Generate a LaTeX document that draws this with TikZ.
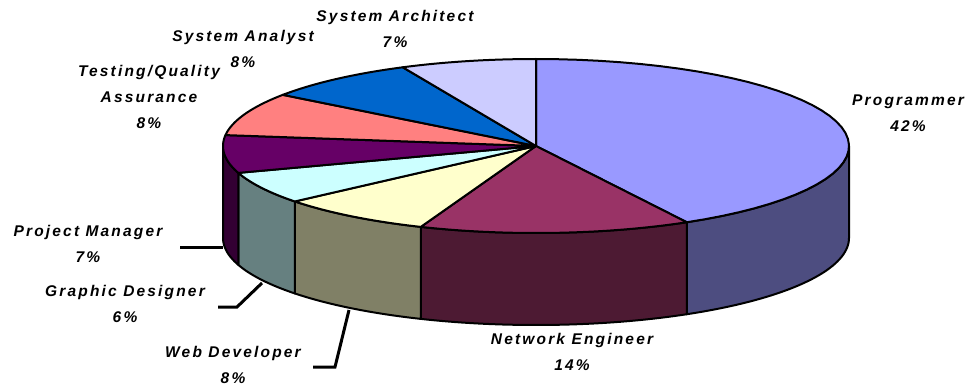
\documentclass[tikz,border=0pt]{standalone}
\usepackage{fontspec}
\setmainfont{Liberation Sans}
\newfontfamily\lblfont[LetterSpace=14]{Liberation Sans}
\definecolor{cProgTop}{HTML}{9999FF}
\definecolor{cProgSide}{HTML}{4D4D80}
\definecolor{cNetTop}{HTML}{993366}
\definecolor{cNetSide}{HTML}{4D1A33}
\definecolor{cWebTop}{HTML}{FFFFCC}
\definecolor{cWebSide}{HTML}{808066}
\definecolor{cGraTop}{HTML}{CCFFFF}
\definecolor{cGraSide}{HTML}{668080}
\definecolor{cPmTop}{HTML}{660066}
\definecolor{cPmSide}{HTML}{330033}
\definecolor{cTestTop}{HTML}{FF8080}
\definecolor{cAnaTop}{HTML}{0066CC}
\definecolor{cArcTop}{HTML}{CCCCFF}
\begin{document}
\begin{tikzpicture}[x=1pt,y=-1pt,
  edge/.style={draw=black,line width=2pt,line join=round},
  lbl/.style={font=\lblfont\bfseries\itshape\fontsize{15.5}{26}\selectfont,align=center,inner sep=0pt},
  leader/.style={line width=3pt,line cap=butt,line join=miter}]
\useasboundingbox (0,0) rectangle (968,385);
% side faces: #1 = start angle, #2 = end angle, #3 = colour
\newcommand\sideface[3]{%
  \filldraw[edge,fill=#3]
    plot[domain=#1:#2,samples=40] ({536+313*cos(\x)},{146-87*sin(\x)})
    -- plot[domain=#2:#1,samples=40] ({536+313*cos(\x)},{238-87*sin(\x)})
    -- cycle;}
\newcommand\topwedge[3]{%
  \filldraw[edge,fill=#3] (536,146)
    -- plot[domain=#1:#2,samples=40] ({536+313*cos(\x)},{146-87*sin(\x)})
    -- cycle;}
\sideface{-61.2}{0}{cProgSide}
\sideface{-111.6}{-61.2}{cNetSide}
\sideface{-140.4}{-111.6}{cWebSide}
\sideface{-162}{-140.4}{cGraSide}
\sideface{-180}{-162}{cPmSide}
\topwedge{-61.2}{90}{cProgTop}
\topwedge{-111.6}{-61.2}{cNetTop}
\topwedge{-140.4}{-111.6}{cWebTop}
\topwedge{-162}{-140.4}{cGraTop}
\topwedge{-187.2}{-162}{cPmTop}
\topwedge{-216}{-187.2}{cTestTop}
\topwedge{-244.8}{-216}{cAnaTop}
\topwedge{-270}{-244.8}{cArcTop}
% labels
\node[lbl] (arc) at (395,28.5) {System Architect\\7\%};
\node[lbl] (ana) at (243,48.5) {System Analyst\\8\%};
\node[lbl] (tst) at (149,97) {Testing/Quality\\Assurance\\8\%};
\node[lbl] (prg) at (908,113) {Programmer\\42\%};
\node[lbl] (net) at (572,351.5) {Network Engineer\\14\%};
\node[lbl] (pm) at (88,243.5) {Project Manager\\7\%};
\node[lbl] (gra) at (125,303.5) {Graphic Designer\\6\%};
\node[lbl] (web) at (233,365) {Web Developer\\8\%};
% leader lines
\coordinate (pmA) at (180,247);
\coordinate (pmB) at (223,247);
\coordinate (graA) at (218,307);
\coordinate (graB) at (237,307);
\coordinate (graC) at (262,283);
\coordinate (webA) at (313,367);
\coordinate (webB) at (335,367);
\coordinate (webC) at (349,310);
\draw[leader] (pmA) -- (pmB);
\draw[leader] (graA) -- (graB) -- (graC);
\draw[leader] (webA) -- (webB) -- (webC);
\end{tikzpicture}
\end{document}
